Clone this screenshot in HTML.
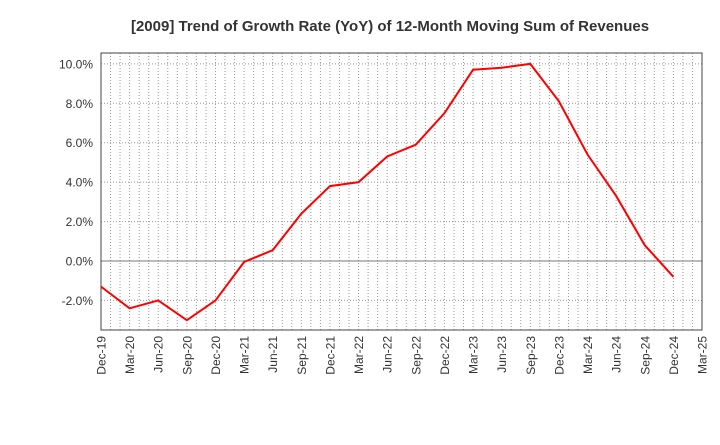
<!DOCTYPE html>
<html><head><meta charset="utf-8"><style>
body{margin:0;background:#fff;font-family:"Liberation Sans",sans-serif}
</style></head><body>
<svg id="chart" width="720" height="440" xmlns="http://www.w3.org/2000/svg">
<text x="390" y="31" text-anchor="middle" font-size="15" font-weight="bold" fill="#333">[2009]  Trend of Growth Rate (YoY) of 12-Month Moving Sum of Revenues</text>
<g id="grid"></g><g id="axes"></g><g id="series"></g>
</svg>
<script>
const categories=["Dec-19","Mar-20","Jun-20","Sep-20","Dec-20","Mar-21","Jun-21","Sep-21","Dec-21","Mar-22","Jun-22","Sep-22","Dec-22","Mar-23","Jun-23","Sep-23","Dec-23","Mar-24","Jun-24","Sep-24","Dec-24","Mar-25"];
const values=[-1.3,-2.4,-2.0,-3.0,-2.0,-0.05,0.55,2.4,3.8,4.0,5.3,5.9,7.5,9.7,9.8,10.0,8.1,5.4,3.3,0.8,-0.8];
const yTicks=[-2,0,2,4,6,8,10];
const NS="http://www.w3.org/2000/svg";
const L=101,R=702,T=53,B=330,yMin=-3.5,yMax=10.55;
const x=i=>L+(R-L)*i/(categories.length-1);
const y=v=>B-(v-yMin)/(yMax-yMin)*(B-T);
function mk(tag,attrs,parent){const e=document.createElementNS(NS,tag);for(const k in attrs)e.setAttribute(k,attrs[k]);parent.appendChild(e);return e;}
const grid=document.getElementById('grid'),axes=document.getElementById('axes'),series=document.getElementById('series');
for(let m=1;m<(categories.length-1)*3;m++){const xx=L+(R-L)*m/((categories.length-1)*3);
const g=mk('line',{x1:xx,x2:xx,y1:T,y2:B,stroke:'#999','stroke-dasharray':'1,2','stroke-width':1},grid);

}
yTicks.forEach(v=>{const yy=y(v);
const g=mk('line',{x1:L,x2:R,y1:yy,y2:yy,stroke:v===0?'#777':'#999','stroke-dasharray':v===0?'none':'1,2','stroke-width':1},grid);


const t=mk('text',{x:L-8,y:yy+4.5,'text-anchor':'end','font-size':12,fill:'#333'},axes);t.textContent=v.toFixed(1)+'%';

});
categories.forEach((c,i)=>{const xx=x(i);
const t=mk('text',{x:0,y:0,'text-anchor':'end','font-size':12,fill:'#333',transform:`translate(${xx+4.5},${B+6}) rotate(-90)`},axes);t.textContent=c;

});
const fr=mk('rect',{x:L,y:T,width:R-L,height:B-T,fill:'none',stroke:'#444','stroke-width':1},axes);


const p=mk('polyline',{points:values.map((v,i)=>x(i)+','+y(v)).join(' '),fill:'none',stroke:'#ff0000','stroke-width':2},series);


</script>
</body></html>
